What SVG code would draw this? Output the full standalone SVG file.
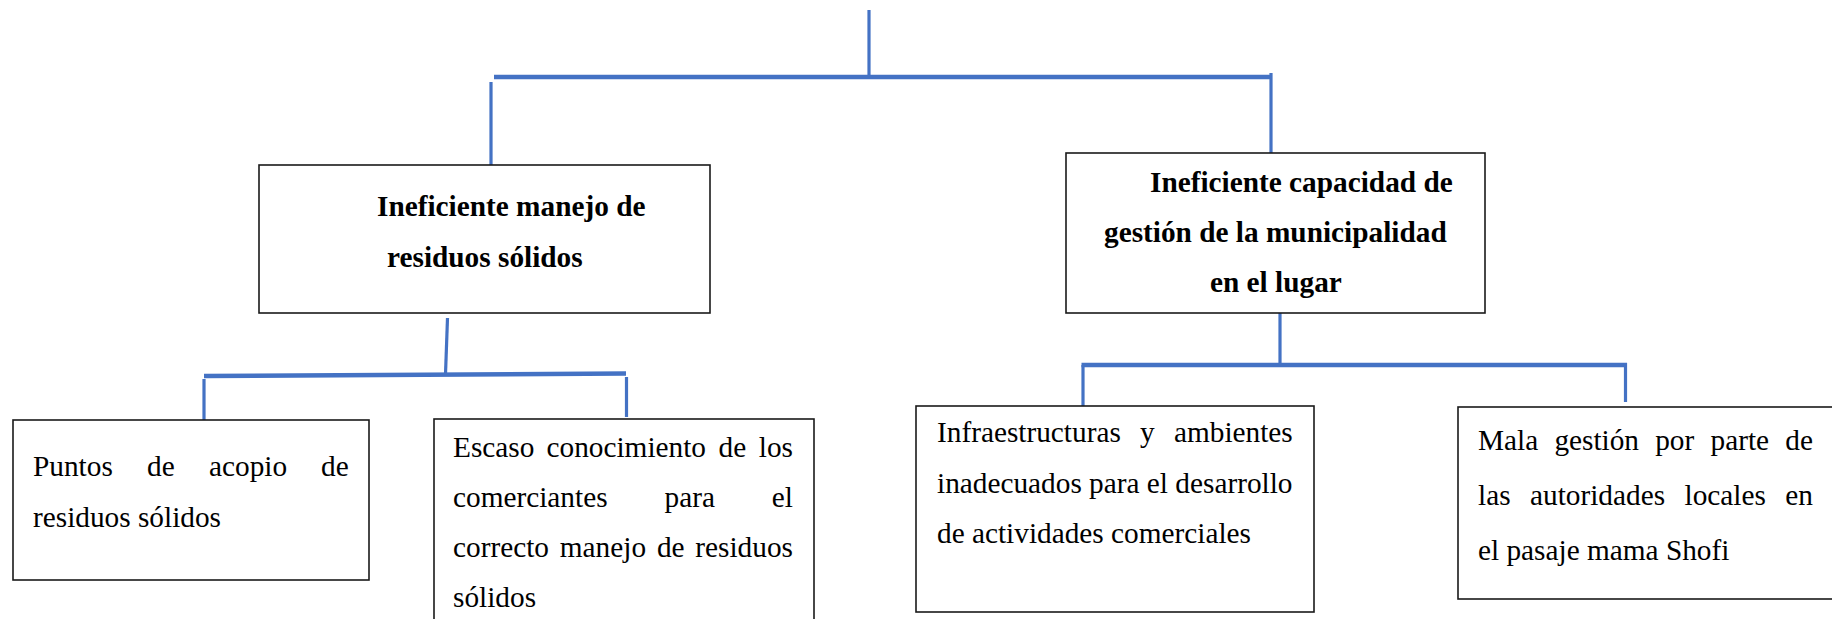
<svg xmlns="http://www.w3.org/2000/svg" width="1832" height="619" viewBox="0 0 1832 619">
<style>
.box{fill:#fff;stroke:#1a1a1a;stroke-width:1.6}
.t{font-family:"Liberation Serif","Times New Roman",serif;font-size:29.3px;fill:#000}
.b{font-weight:bold}
.c{stroke:#4472C4;fill:none;stroke-linecap:butt}
.bar{stroke-width:4.5}
.v{stroke-width:3.2}
</style>
<rect width="1832" height="619" fill="#fff"/>
<g id="connectors">
<line class="c v" x1="869" y1="10" x2="869" y2="77"/>
<line class="c bar" x1="494" y1="77" x2="1272" y2="77"/>
<line class="c v" x1="491" y1="82" x2="491" y2="165"/>
<line class="c v" x1="1271" y1="73" x2="1271" y2="154"/>
<line class="c v" x1="447.5" y1="318" x2="445.5" y2="374"/>
<line class="c bar" x1="204" y1="376" x2="626" y2="373.5"/>
<line class="c v" x1="204" y1="379" x2="204" y2="420"/>
<line class="c v" x1="626.5" y1="377" x2="626.5" y2="417"/>
<line class="c v" x1="1280" y1="313" x2="1280" y2="365"/>
<line class="c bar" x1="1081.5" y1="365" x2="1627" y2="365"/>
<line class="c v" x1="1083" y1="365" x2="1083" y2="406"/>
<line class="c v" x1="1625.5" y1="363" x2="1625.5" y2="402"/>
</g>
<g id="node-manejo">
<rect class="box" x="259" y="165" width="451" height="148"/>
<text class="t b" x="377" y="216">Ineficiente manejo de</text>
<text class="t b" x="387" y="267">residuos sólidos</text>
</g>
<g id="node-capacidad">
<rect class="box" x="1066" y="153" width="419" height="160"/>
<text class="t b" x="1150" y="192">Ineficiente capacidad de</text>
<text class="t b" x="1104" y="242">gestión de la municipalidad</text>
<text class="t b" x="1210" y="292">en el lugar</text>
</g>
<g id="node-puntos">
<rect class="box" x="13" y="420" width="356" height="160"/>
<text class="t" y="476"><tspan x="33">Puntos</tspan><tspan x="147">de</tspan><tspan x="209">acopio</tspan><tspan x="321">de</tspan></text>
<text class="t" x="33" y="527">residuos sólidos</text>
</g>
<g id="node-escaso">
<rect class="box" x="434" y="419" width="380" height="210"/>
<text class="t" y="457"><tspan x="453">Escaso</tspan><tspan x="546.5">conocimiento</tspan><tspan x="718.5">de</tspan><tspan x="758.8">los</tspan></text>
<text class="t" y="507"><tspan x="453">comerciantes</tspan><tspan x="664.5">para</tspan><tspan x="771.8">el</tspan></text>
<text class="t" y="557"><tspan x="453">correcto</tspan><tspan x="559.8">manejo</tspan><tspan x="656.9">de</tspan><tspan x="695.3">residuos</tspan></text>
<text class="t" x="453" y="607">sólidos</text>
</g>
<g id="node-infra">
<rect class="box" x="916" y="406" width="398" height="206"/>
<text class="t" y="442"><tspan x="937">Infraestructuras</tspan><tspan x="1140">y</tspan><tspan x="1174">ambientes</tspan></text>
<text class="t" x="937" y="493">inadecuados para el desarrollo</text>
<text class="t" x="937" y="543">de actividades comerciales</text>
</g>
<g id="node-mala">
<rect class="box" x="1458" y="407" width="390" height="192"/>
<text class="t" y="450"><tspan x="1478">Mala</tspan><tspan x="1554.4">gestión</tspan><tspan x="1655.2">por</tspan><tspan x="1710.5">parte</tspan><tspan x="1785.3">de</tspan></text>
<text class="t" y="505"><tspan x="1478">las</tspan><tspan x="1530">autoridades</tspan><tspan x="1684.5">locales</tspan><tspan x="1785.3">en</tspan></text>
<text class="t" x="1478" y="560">el pasaje mama Shofi</text>
</g>
</svg>
